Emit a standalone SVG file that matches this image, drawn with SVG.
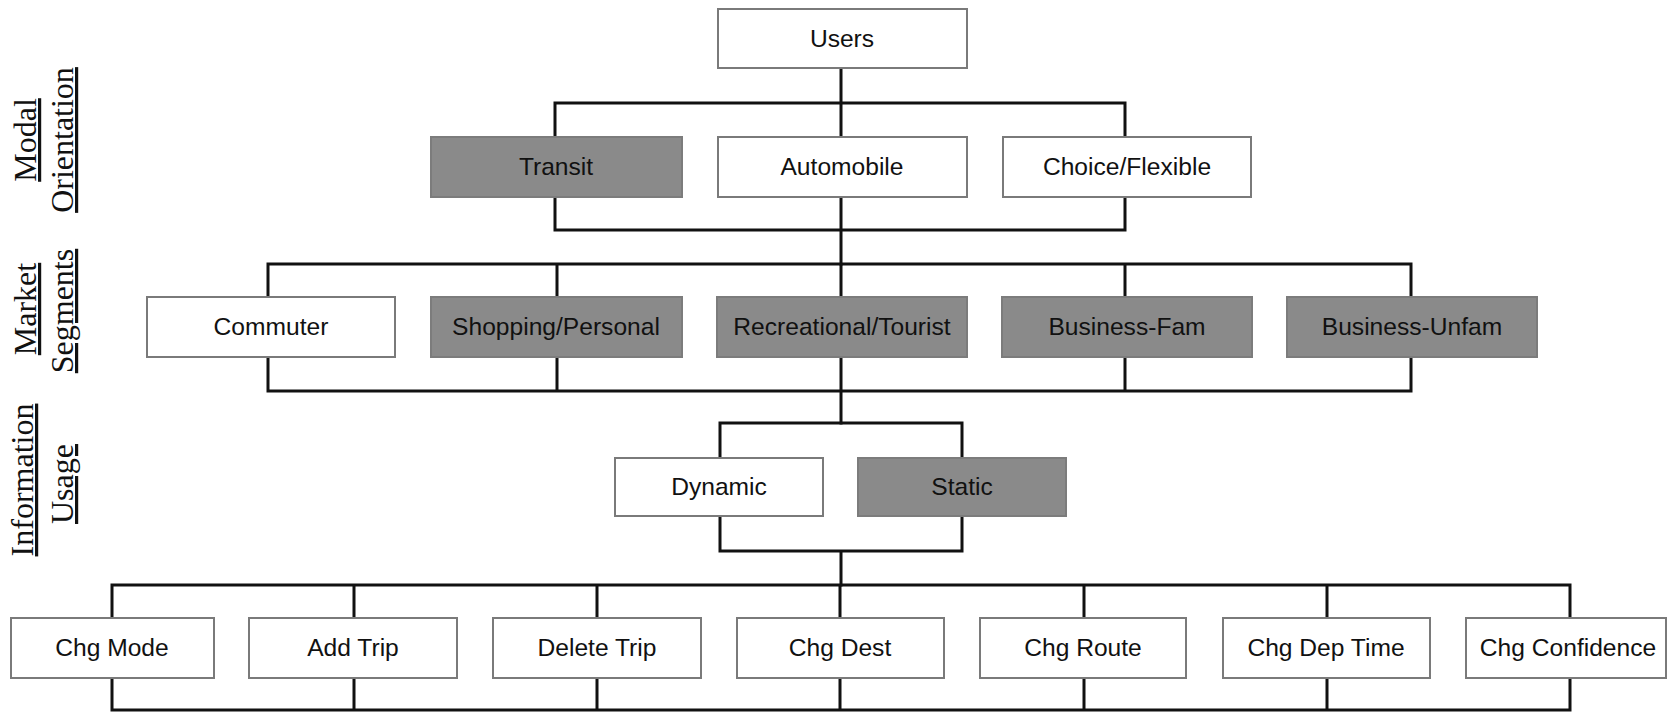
<svg xmlns="http://www.w3.org/2000/svg" width="1670" height="712" viewBox="0 0 1670 712">
<style>
.bg{fill:#ffffff}
.box{fill:#ffffff;stroke:#7a7a7a;stroke-width:2}
.shade{fill:#8a8a8a;stroke:#7c7c7c;stroke-width:2}
.t{font-family:"Liberation Sans",Arial,sans-serif;font-size:24.6px;fill:#111;text-anchor:middle}
.lab{font-family:"Liberation Serif","Times New Roman",serif;font-size:32px;fill:#111;text-anchor:middle;text-decoration:underline}
.c{fill:none;stroke:#111;stroke-width:3;stroke-linecap:square}
</style>
<rect class="bg" x="0" y="0" width="1670" height="712"/>

<g id="side-labels">
  <text class="lab" transform="translate(36,140) rotate(-90)">Modal</text>
  <text class="lab" transform="translate(73,140) rotate(-90)">Orientation</text>
  <text class="lab" transform="translate(36,309) rotate(-90)">Market</text>
  <text class="lab" transform="translate(73,311) rotate(-90)">Segments</text>
  <text class="lab" transform="translate(33,480) rotate(-90)">Information</text>
  <text class="lab" transform="translate(73,484) rotate(-90)">Usage</text>
</g>

<g id="connectors">
  <path class="c" d="M841,68 V103 M555,103 H1125 M555,103 V230 M841,103 V230 M1125,103 V230 M555,230 H1125 M841,230 V264"/>
  <path class="c" d="M268,264 H1411 M268,391 H1411 M268,264 V391 M557,264 V391 M841,264 V391 M1125,264 V391 M1411,264 V391 M841,391 V423"/>
  <path class="c" d="M720,423 H962 M720,423 V551 M962,423 V551 M720,551 H962 M841,551 V585"/>
  <path class="c" d="M112,585 H1570 M112,710 H1570 M112,585 V710 M354,585 V710 M597,585 V710 M840,585 V710 M1084,585 V710 M1327,585 V710 M1570,585 V710"/>
</g>

<g id="users"><rect class="box" x="718" y="9" width="249" height="59"/><text class="t" x="842" y="47">Users</text></g>

<g id="transit"><rect class="shade" x="431" y="137" width="251" height="60"/><text class="t" x="556" y="175">Transit</text></g>
<g id="automobile"><rect class="box" x="718" y="137" width="249" height="60"/><text class="t" x="842" y="175">Automobile</text></g>
<g id="choice-flexible"><rect class="box" x="1003" y="137" width="248" height="60"/><text class="t" x="1127" y="175">Choice/Flexible</text></g>

<g id="commuter"><rect class="box" x="147" y="297" width="248" height="60"/><text class="t" x="271" y="335">Commuter</text></g>
<g id="shopping-personal"><rect class="shade" x="431" y="297" width="251" height="60"/><text class="t" x="556" y="335">Shopping/Personal</text></g>
<g id="recreational-tourist"><rect class="shade" x="717" y="297" width="250" height="60"/><text class="t" x="842" y="335">Recreational/Tourist</text></g>
<g id="business-fam"><rect class="shade" x="1002" y="297" width="250" height="60"/><text class="t" x="1127" y="335">Business-Fam</text></g>
<g id="business-unfam"><rect class="shade" x="1287" y="297" width="250" height="60"/><text class="t" x="1412" y="335">Business-Unfam</text></g>

<g id="dynamic"><rect class="box" x="615" y="458" width="208" height="58"/><text class="t" x="719" y="495">Dynamic</text></g>
<g id="static"><rect class="shade" x="858" y="458" width="208" height="58"/><text class="t" x="962" y="495">Static</text></g>

<g id="chg-mode"><rect class="box" x="11" y="618" width="203" height="60"/><text class="t" x="112" y="656">Chg Mode</text></g>
<g id="add-trip"><rect class="box" x="249" y="618" width="208" height="60"/><text class="t" x="353" y="656">Add Trip</text></g>
<g id="delete-trip"><rect class="box" x="493" y="618" width="208" height="60"/><text class="t" x="597" y="656">Delete Trip</text></g>
<g id="chg-dest"><rect class="box" x="737" y="618" width="207" height="60"/><text class="t" x="840" y="656">Chg Dest</text></g>
<g id="chg-route"><rect class="box" x="980" y="618" width="206" height="60"/><text class="t" x="1083" y="656">Chg Route</text></g>
<g id="chg-dep-time"><rect class="box" x="1223" y="618" width="207" height="60"/><text class="t" x="1326" y="656">Chg Dep Time</text></g>
<g id="chg-confidence"><rect class="box" x="1466" y="618" width="200" height="60"/><text class="t" x="1568" y="656">Chg Confidence</text></g>
</svg>
